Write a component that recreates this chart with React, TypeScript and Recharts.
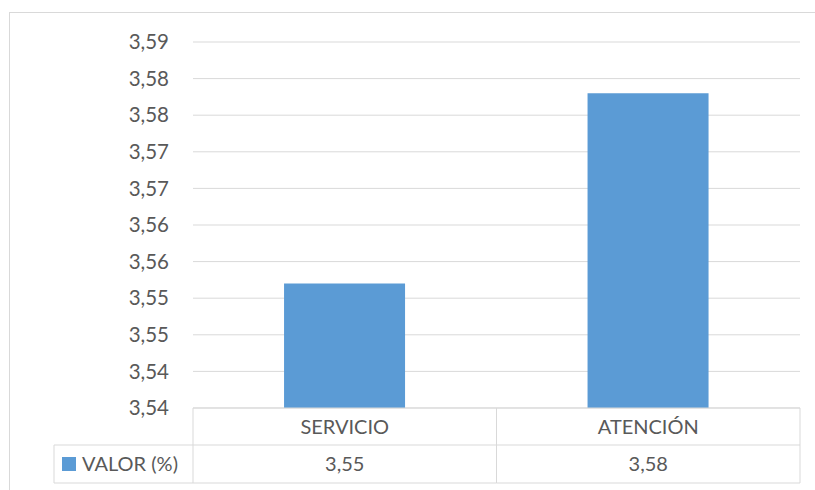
import { BarChart, Bar, XAxis, YAxis, CartesianGrid } from "recharts";

const categories = ["SERVICIO", "ATENCIÓN"];
const values = [3.552, 3.578];
const valueLabels = ["3,55", "3,58"];
const seriesName = "VALOR (%)";
const yTicks = [3.535, 3.54, 3.545, 3.55, 3.555, 3.56, 3.565, 3.57, 3.575, 3.58, 3.585];
const yTickLabels = ["3,54", "3,54", "3,55", "3,55", "3,56", "3,56", "3,57", "3,57", "3,58", "3,58", "3,59"];

const data = categories.map((name, i) => ({ name, value: values[i], label: valueLabels[i] }));

const LINE = "#d9d9d9";
const TEXT = "#595959";
const BAR = "#5b9bd5";
const FONT = "Lato, 'Open Sans', sans-serif";

// draws the excel style data table under the plot
function TableTick(props: any) {
  const { x, y, index, payload, width, visibleTicksCount } = props;
  const band = width && visibleTicksCount ? width / visibleTicksCount : 303.5;
  const left = x - band / 2;
  const right = x + band / 2;
  const row = data[index] ?? data.find((d) => d.name === payload.value);
  return (
    <g>
      <line x1={left} x2={right} y1={y + 37} y2={y + 37} stroke={LINE} />
      <line x1={left} x2={right} y1={y + 75} y2={y + 75} stroke={LINE} />
      <line x1={right} x2={right} y1={y} y2={y + 75} stroke={LINE} />
      {index === 0 && (
        <g>
          <line x1={left} x2={left} y1={y} y2={y + 75} stroke={LINE} />
          <line x1={left - 139} x2={left} y1={y + 37} y2={y + 37} stroke={LINE} />
          <line x1={left - 139} x2={left} y1={y + 75} y2={y + 75} stroke={LINE} />
          <line x1={left - 139} x2={left - 139} y1={y + 37} y2={y + 75} stroke={LINE} />
          <rect x={left - 131} y={y + 49} width={14} height={14} fill={BAR} />
          <text x={left - 111} y={y + 56} dy="0.36em" fill={TEXT} fontSize={20} fontFamily={FONT}>
            {seriesName}
          </text>
        </g>
      )}
      <text x={x} y={y + 18.5} dy="0.36em" textAnchor="middle" fill={TEXT} fontSize={20} fontFamily={FONT}>
        {payload.value}
      </text>
      <text x={x} y={y + 56} dy="0.36em" textAnchor="middle" fill={TEXT} fontSize={20} fontFamily={FONT}>
        {row ? row.label : ""}
      </text>
    </g>
  );
}

export default function App() {
  return (
    <div
      style={{
        position: "absolute",
        left: 0,
        top: 0,
        width: 815,
        height: 490,
        overflow: "hidden",
        background: "#fff"
      }}
    >
      <div
        style={{
          position: "absolute",
          left: 9,
          top: 12,
          width: 830,
          height: 520,
          border: `1px solid ${LINE}`
        }}
      />
      <div style={{ position: "absolute", left: 0, top: 0 }}>
        <BarChart
          width={815}
          height={490}
          data={data}
          margin={{ top: 42, right: 15, left: 0, bottom: 0 }}
          barCategoryGap="30%"
        >
          <CartesianGrid vertical={false} stroke={LINE} />
          <XAxis
            dataKey="name"
            height={82}
            axisLine={{ stroke: LINE }}
            tickLine={false}
            tickSize={0}
            tickMargin={0}
            interval={0}
            tick={<TableTick />}
          />
          <YAxis
            width={193}
            domain={[3.535, 3.585]}
            ticks={yTicks}
            allowDataOverflow
            axisLine={false}
            tickLine={false}
            tickSize={0}
            tickMargin={24}
            tickFormatter={(v: number) => yTickLabels[yTicks.indexOf(v)] ?? ""}
            tick={{ fill: TEXT, fontSize: 20.5, fontFamily: FONT }}
          />
          <Bar dataKey="value" fill={BAR} isAnimationActive={false} />
        </BarChart>
      </div>
    </div>
  );
}
